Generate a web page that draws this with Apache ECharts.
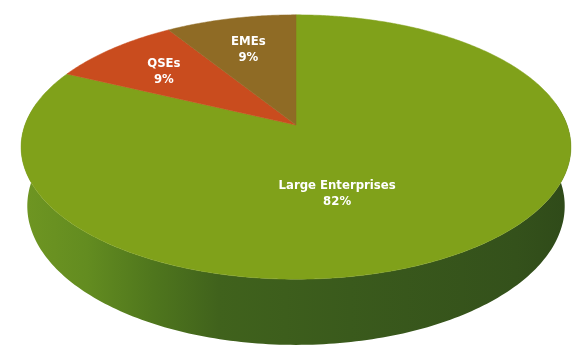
<!DOCTYPE html>
<html>
<head>
<meta charset="utf-8">
<style>
  html, body { margin: 0; padding: 0; background: #ffffff; }
  #chart { width: 574px; height: 350px; }
</style>
<script src="https://cdn.jsdelivr.net/npm/echarts@6/dist/echarts.min.js"></script>
</head>
<body>
<div id="chart"></div>
<script>
// Share of total by enterprise size
const categories = ['Large Enterprises', 'QSEs', 'EMEs'];
const shares = [82, 9, 9];

const sliceColors = ['#80a11a', '#c94c1e', '#8f6b25'];

// Simple perspective camera looking down on a flat disc of radius 1
const TILT = 28.3 * Math.PI / 180;
const SIN_T = Math.sin(TILT), COS_T = Math.cos(TILT);
const DIST = 6 * COS_T;
const FOCAL = 1432;
const CENTER = [296, 125];
const THICK = 0.25;

function project(X, Y, Z) {
  const up = Y * COS_T - Z * SIN_T;
  const depth = DIST - Y * SIN_T - Z * COS_T;
  return [CENTER[0] + X * FOCAL / depth, CENTER[1] - up * FOCAL / depth];
}
function rim(deg, y) {
  const a = deg * Math.PI / 180;
  return project(Math.cos(a), y, -Math.sin(a));
}

const total = shares.reduce((s, v) => s + v, 0);

function sliceRange(idx) {
  // slices run clockwise from twelve o'clock
  let start = 90;
  for (let i = 0; i < idx; i++) start -= shares[i] / total * 360;
  return [start, start - shares[idx] / total * 360];
}

function renderSlice(params, api) {
  const idx = params.dataIndex;
  const value = api.value(0);
  const [a0, a1] = sliceRange(idx);
  const children = [];

  // front wall, drawn only where the slice faces the viewer
  const f0 = Math.min(a0, 10), f1 = Math.max(a1, -190);
  if (f0 > f1) {
    const pts = [];
    for (let d = f0; d >= f1; d -= 1) pts.push(rim(d, 0));
    pts.push(rim(f1, 0));
    pts.push(rim(f1, -THICK));
    for (let d = f1; d <= f0; d += 1) pts.push(rim(d, -THICK));
    pts.push(rim(f0, -THICK));
    children.push({
      type: 'polygon',
      shape: { points: pts },
      style: {
        fill: {
          type: 'linear', x: 0, y: 0, x2: 1, y2: 0,
          colorStops: [
            { offset: 0.00, color: '#6f9622' },
            { offset: 0.12, color: '#638c20' },
            { offset: 0.24, color: '#4f761d' },
            { offset: 0.36, color: '#40621c' },
            { offset: 0.60, color: '#3a5a1c' },
            { offset: 0.90, color: '#34511b' },
            { offset: 1.00, color: '#2f4a19' }
          ]
        }
      }
    });
  }

  // top face
  const top = [project(0, 0, 0)];
  for (let d = a0; d >= a1; d -= 0.5) top.push(rim(d, 0));
  top.push(rim(a1, 0));
  children.push({
    type: 'polygon',
    shape: { points: top },
    style: { fill: sliceColors[idx], stroke: sliceColors[idx], lineWidth: 0.5 }
  });

  // label inside the slice
  let mid = (a0 + a1) / 2;
  let r = 0.7;
  const front = -90;
  if (a0 >= front && a1 <= front) {
    mid = (mid + front) / 2;
    r = 0.5;
  }
  const m = mid * Math.PI / 180;
  const p = project(r * Math.cos(m), 0, -r * Math.sin(m));
  children.push({
    type: 'text',
    x: p[0], y: p[1] + 2,
    style: {
      text: categories[idx] + '\n' + Math.round(value) + '%',
      fill: '#ffffff',
      font: 'bold 13px "Liberation Sans Narrow", "DejaVu Sans Condensed", sans-serif',
      lineHeight: 16,
      align: 'center',
      verticalAlign: 'middle'
    }
  });

  return { type: 'group', children };
}

const chart = echarts.init(document.getElementById('chart'), null, { renderer: 'canvas' });
chart.setOption({
  animation: false,
  backgroundColor: '#ffffff',
  series: [{
    type: 'custom',
    coordinateSystem: 'none',
    renderItem: renderSlice,
    data: shares.map((v, i) => ({ name: categories[i], value: [v] }))
  }]
});
</script>
</body>
</html>
